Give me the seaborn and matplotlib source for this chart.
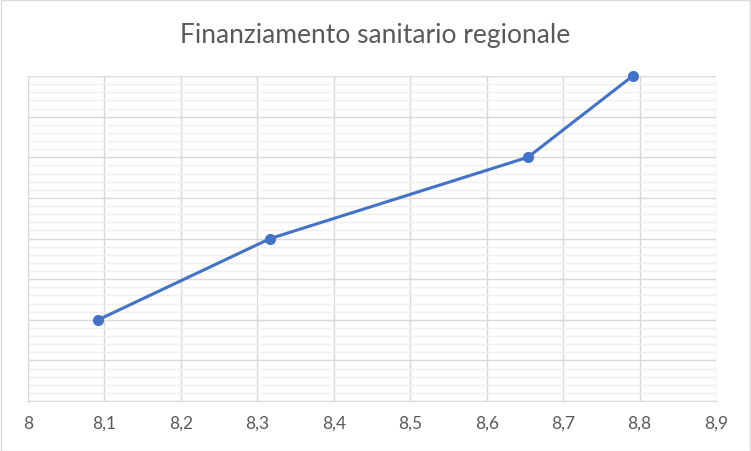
import pandas as pd
import matplotlib.pyplot as plt
import seaborn as sns
from matplotlib.ticker import MultipleLocator, FuncFormatter

# values
x_vals = [8.092, 8.317, 8.654, 8.791]
y_vals = [2, 4, 6, 8]
title = 'Finanziamento sanitario regionale'

df = pd.DataFrame({'x': x_vals, 'y': y_vals})

sns.set_style('white')
plt.rcParams['font.family'] = ['Lato', 'DejaVu Sans']

fig = plt.figure(figsize=(7.51, 4.52), dpi=100)
ax = fig.add_axes([28 / 751, 50 / 452, 688 / 751, 325 / 452])

sns.lineplot(data=df, x='x', y='y', ax=ax, sort=False, color='#4472C4',
             linewidth=2.2, marker='o', markersize=8, markeredgewidth=0,
             zorder=5, clip_on=False)

ax.set_xlim(8, 8.9)
ax.set_ylim(0, 8)
ax.xaxis.set_major_locator(MultipleLocator(0.1))
ax.yaxis.set_major_locator(MultipleLocator(1))
ax.yaxis.set_minor_locator(MultipleLocator(0.2))
ax.xaxis.set_major_formatter(FuncFormatter(
    lambda v, p: ('%g' % round(v, 1)).replace('.', ',')))
ax.set_yticklabels([])

ax.grid(which='major', color='#D9D9D9', linewidth=1)
ax.grid(which='minor', axis='y', color='#EFEFEF', linewidth=1)
ax.set_axisbelow(True)
ax.tick_params(axis='both', which='both', length=0)
ax.tick_params(axis='x', labelsize=12.5, labelcolor='#595959', pad=10)
ax.set_xlabel('')
ax.set_ylabel('')
for s in ax.spines.values():
    s.set_visible(False)
ax.spines['left'].set_visible(True)
ax.spines['left'].set_color('#D9D9D9')
ax.spines['bottom'].set_visible(True)
ax.spines['bottom'].set_color('#D9D9D9')

fig.text(0.5, 1 - 36 / 452, title, ha='center', va='center',
         fontsize=19, color='#595959')

# thin border around the whole chart area
fig.patches.append(plt.Rectangle((0.001, 0.001), 0.998, 0.997,
                                 transform=fig.transFigure, fill=False,
                                 edgecolor='#D9D9D9', linewidth=1))

fig.savefig('out.png', dpi=100)
